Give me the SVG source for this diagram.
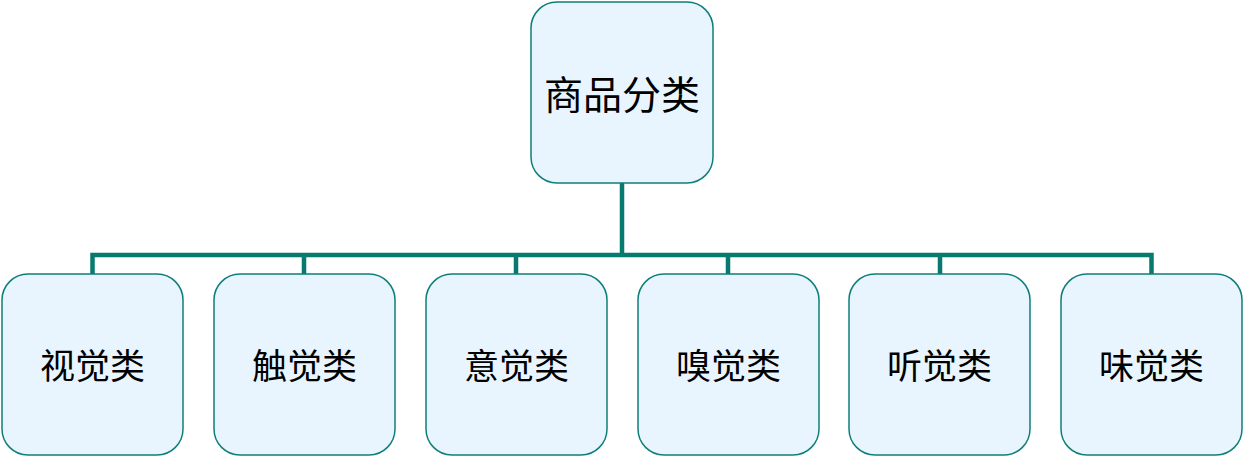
<svg xmlns="http://www.w3.org/2000/svg" width="1243" height="457" viewBox="0 0 1243 457">
<style>
.node{fill:#E9F5FE;stroke:#0E7F78;stroke-width:1.5}
.t{font-family:"Liberation Serif","Noto Sans CJK SC",serif;fill:#000;text-anchor:middle;dominant-baseline:central}
.top{font-size:39px}
.sub{font-size:35px}
.conn{fill:none;stroke:#077A70;stroke-width:4.5}
</style>
<g id="connectors">
<path class="conn" d="M622,183 V255 M92.5,274 V255 H1151.5 V274 M304,255 V274 M516,255 V274 M728,255 V274 M940,255 V274"/>
</g>
<g id="root"><rect class="node" x="531" y="2" width="182" height="181" rx="26"/><text class="t top" x="622" y="95">商品分类</text></g>
<g id="n1"><rect class="node" x="2" y="274" width="181" height="181" rx="26"/><text class="t sub" x="92.5" y="367">视觉类</text></g>
<g id="n2"><rect class="node" x="214" y="274" width="181" height="181" rx="26"/><text class="t sub" x="304.5" y="367">触觉类</text></g>
<g id="n3"><rect class="node" x="426" y="274" width="181" height="181" rx="26"/><text class="t sub" x="516.5" y="367">意觉类</text></g>
<g id="n4"><rect class="node" x="638" y="274" width="181" height="181" rx="26"/><text class="t sub" x="728.5" y="367">嗅觉类</text></g>
<g id="n5"><rect class="node" x="849" y="274" width="181" height="181" rx="26"/><text class="t sub" x="939.5" y="367">听觉类</text></g>
<g id="n6"><rect class="node" x="1061" y="274" width="181" height="181" rx="26"/><text class="t sub" x="1151.5" y="367">味觉类</text></g>
</svg>
